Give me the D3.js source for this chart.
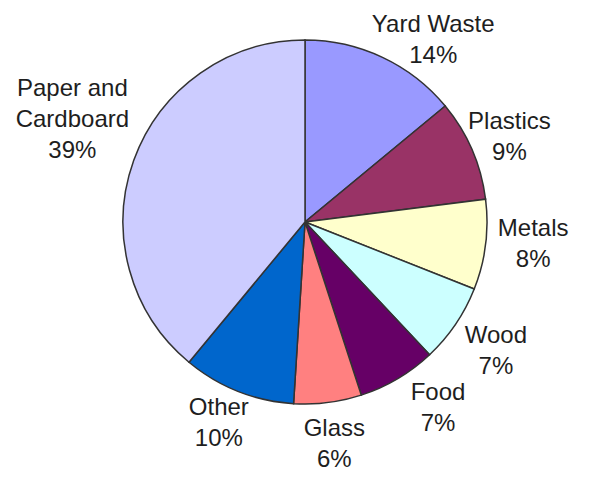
<!DOCTYPE html>
<html lang="en">
<head>
    <meta charset="UTF-8">
    <title>Municipal Solid Waste Composition</title>
    <script src="https://d3js.org/d3.v7.min.js"></script>
    <style>
        body {
            margin: 0;
            background-color: #fff;
        }
        .slice {
            stroke: #333;
            stroke-width: 1.5px;
        }
        .label {
            font-family: "Liberation Sans", Arial, sans-serif;
            font-size: 24px;
            fill: #1e1e1e;
            text-anchor: middle;
        }
    </style>
</head>
<body>
    <svg id="chart"></svg>

    <script>
        // Data, clockwise from 12 o'clock
        const categories = ["Yard Waste", "Plastics", "Metals", "Wood", "Food", "Glass", "Other", "Paper and\nCardboard"];
        const percents = [14, 9, 8, 7, 7, 6, 10, 39];
        const sliceColors = ["#9999ff", "#993366", "#ffffcc", "#ccffff", "#660066", "#ff8080", "#0066cc", "#ccccff"];

        // Excel pushed some labels off the mid-angle; small pixel nudges
        const labelNudge = [[32, 21], [-3, 4], [4, -7], [4, 1], [18, -10], [1, -3], [-3, -10], [-20, -27]];

        const width = 603;
        const height = 480;
        const cx = 305, cy = 222;
        const radius = 182;
        const labelRadius = 226;
        const lineHeight = 31;

        const svg = d3.select("#chart")
            .attr("width", width)
            .attr("height", height);

        const g = svg.append("g")
            .attr("transform", `translate(${cx},${cy})`);

        const pie = d3.pie()
            .sort(null)
            .value(d => d);

        const arcs = pie(percents);

        const arc = d3.arc()
            .innerRadius(0)
            .outerRadius(radius);

        const labelArc = d3.arc()
            .innerRadius(labelRadius)
            .outerRadius(labelRadius);

        // Slices
        g.selectAll(".slice")
            .data(arcs)
            .enter()
            .append("path")
            .attr("class", "slice")
            .attr("d", arc)
            .style("fill", (d, i) => sliceColors[i]);

        // Labels: category lines plus percent
        arcs.forEach((d, i) => {
            const [lx, ly] = labelArc.centroid(d);
            const x = lx + labelNudge[i][0];
            const y = ly + labelNudge[i][1];
            const lines = categories[i].split("\n").concat([d3.format("d")(percents[i]) + "%"]);
            const firstBaseline = y - (lines.length - 1) * lineHeight / 2 + 8.5;

            const text = g.append("text")
                .attr("class", "label")
                .attr("x", x)
                .attr("y", firstBaseline);

            lines.forEach((line, j) => {
                text.append("tspan")
                    .attr("x", x)
                    .attr("y", firstBaseline + j * lineHeight)
                    .text(line);
            });
        });
    </script>
</body>
</html>
